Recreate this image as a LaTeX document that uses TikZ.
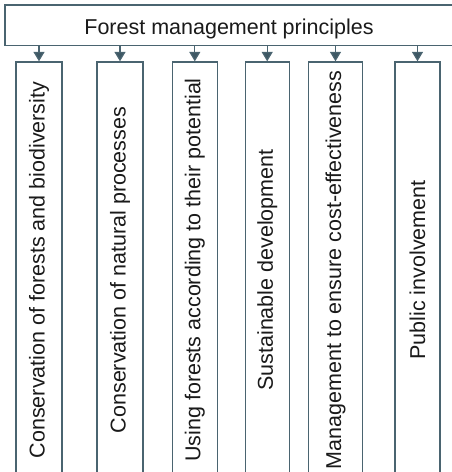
\documentclass[tikz,border=0pt]{standalone}
\usepackage{fontspec}
\setmainfont{Liberation Sans}
\usetikzlibrary{arrows.meta}
\definecolor{edge}{HTML}{4A6470}
\definecolor{tip}{HTML}{3E5864}
\definecolor{ink}{HTML}{1A1A1A}
\tikzset{
  frame/.style={draw=edge, line width=1.3pt, fill=white, inner sep=0pt, text=ink,
    font=\fontsize{21.5}{25}\selectfont},
  col/.style={frame, rotate=90, minimum width=416pt},
  link/.style={draw=edge, line width=1.3pt, -{Triangle[width=11pt,length=9.5pt,fill=tip]}}
}
\begin{document}
\begin{tikzpicture}[x=1pt,y=-1pt]
\useasboundingbox (0,0) rectangle (451,472);
\node[frame, minimum width=452pt, minimum height=40.5pt, text height=18pt, text depth=0pt] (top) at (231,25.25) {\hspace*{-4pt}Forest management principles};
\node[col, minimum height=46pt] (b1) at (39,270) {Conservation of forests and biodiversity};
\node[col, minimum height=46pt] (b2) at (120,270) {Conservation of natural processes};
\node[col, minimum height=45pt] (b3) at (194.8,270) {Using forests according to their potential};
\node[col, minimum height=44pt] (b4) at (267.2,270) {Sustainable development};
\node[col, minimum height=53.5pt] (b5) at (335.5,270) {Management to ensure cost-effectiveness};
\node[col, minimum height=45pt] (b6) at (417.5,270) {Public involvement};
\foreach \b in {b1,b2,b3,b4,b5,b6}
  \draw[link] (top.south -| \b.east) -- (\b.east);
\end{tikzpicture}
\end{document}
